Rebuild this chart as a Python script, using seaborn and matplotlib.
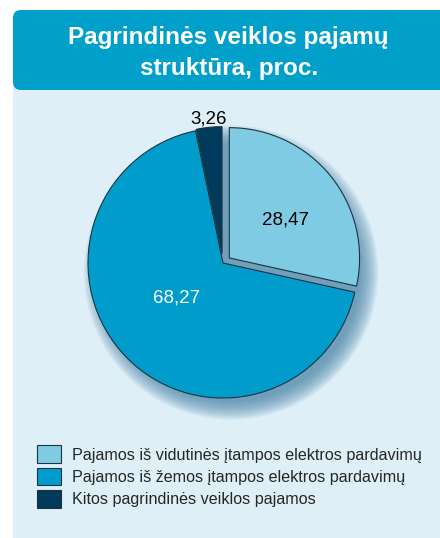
import numpy as np
import matplotlib
matplotlib.use('Agg')
import matplotlib.pyplot as plt
from matplotlib.patches import FancyBboxPatch, Rectangle, Circle
import seaborn as sns

sns.set_theme(style='white')
plt.rcParams['font.family'] = ['Liberation Sans', 'DejaVu Sans']

# data
title = 'Pagrindinės veiklos pajamų\nstruktūra, proc.'
labels = ['Pajamos iš vidutinės įtampos elektros pardavimų',
          'Pajamos iš žemos įtampos elektros pardavimų',
          'Kitos pagrindinės veiklos pajamos']
values = [28.47, 68.27, 3.26]
explode = [0.06, 0.0, 0.07]
colors = sns.color_palette(['#7fcbe4', '#009ccc', '#003a5c'])
label_colors = ['black', 'white', 'black']
label_dist = [0.50, 0.43, 1.00]
label_turn = [-5, -8, 0]
slice_radius = [0.965, 1.0, 0.94]

fig = plt.figure(figsize=(4.4, 5.38), dpi=100)
fig.patch.set_facecolor('white')

# background panel and header
fig.patches.append(Rectangle((0.13, 0), 4.4, 4.50, transform=fig.dpi_scale_trans,
                             facecolor='#deeff7', edgecolor='none', zorder=-2))
fig.patches.append(FancyBboxPatch((0.13, 4.48), 4.6, 0.80,
                                  boxstyle='round,pad=0,rounding_size=0.08',
                                  transform=fig.dpi_scale_trans,
                                  facecolor='#00a0cb', edgecolor='none', zorder=-1))
fig.text(0.52, 1 - 53 / 538, title, ha='center', va='center', color='white',
         fontsize=17.5, fontweight='bold', linespacing=1.4)

ax = fig.add_axes([61 / 440, 113 / 538, 324 / 440, 324 / 538])
ax.set_zorder(2)

# soft shadow under the pie
for k in range(12):
    ax.add_patch(Circle((0.06, -0.07), 1.09 - 0.012 * k, facecolor='#3f7fa3',
                        edgecolor='none', alpha=0.09))

wedges, _ = ax.pie(values, explode=explode, startangle=90, counterclock=False,
                   colors=colors,
                   wedgeprops=dict(edgecolor='#1d3440', linewidth=0.8))
for w, r in zip(wedges, slice_radius):
    w.set_radius(r)

for w, v, c, d, t in zip(wedges, values, label_colors, label_dist, label_turn):
    ang = np.deg2rad((w.theta1 + w.theta2) / 2 + t)
    cx, cy = w.center
    ax.text(cx + d * np.cos(ang), cy + d * np.sin(ang), f'{v:.2f}'.replace('.', ','),
            ha='center', va='center', color=c, fontsize=13.5)

ax.set_xlim(-1.2, 1.2)
ax.set_ylim(-1.2, 1.2)
ax.set_aspect('equal')
ax.axis('off')

leg = fig.legend(wedges, labels, loc='upper left', bbox_to_anchor=(31 / 440, 1 - 439 / 538),
                 frameon=False, fontsize=11.6, handlelength=1.45, handleheight=1.3,
                 handletextpad=0.7, labelspacing=0.3, borderaxespad=0)
leg.set_zorder(3)

fig.savefig('out.png', dpi=100)
